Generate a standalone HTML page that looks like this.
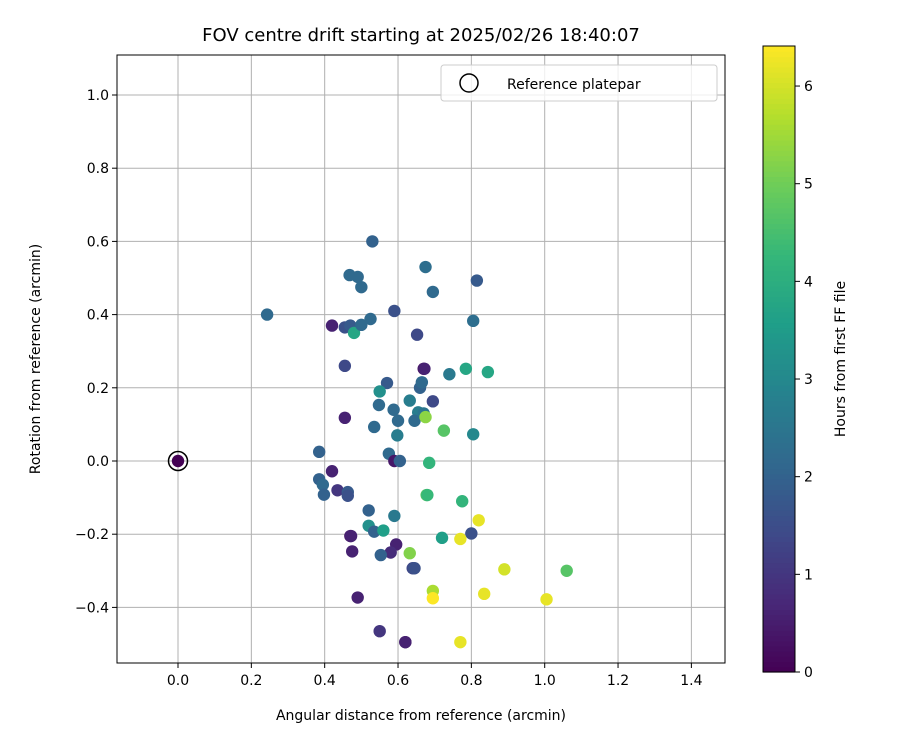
<!DOCTYPE html>
<html><head><meta charset="utf-8"><style>
body{margin:0;background:#fff;font-family:"Liberation Sans","DejaVu Sans",sans-serif}
svg text{font-family:"DejaVu Sans","Liberation Sans",sans-serif}
</style></head><body>
<svg id="c" width="900" height="750" viewBox="0 0 900 750"></svg>
<script>
const xs=[0.243,0.53,0.468,0.49,0.50,0.675,0.695,0.815,0.805,0.42,0.455,0.47,0.48,0.50,0.525,0.59,0.652,0.455,0.67,0.672,0.74,0.785,0.845,0.57,0.55,0.66,0.665,0.632,0.695,0.548,0.588,0.655,0.645,0.67,0.60,0.675,0.455,0.535,0.725,0.805,0.598,0.385,0.575,0.59,0.605,0.685,0.42,0.385,0.395,0.398,0.435,0.463,0.463,0.678,0.68,0.775,0.52,0.59,0.82,0.52,0.535,0.56,0.80,0.47,0.472,0.72,0.77,0.595,0.475,0.58,0.553,0.632,0.64,0.645,0.89,1.06,0.695,0.835,0.695,0.49,1.005,0.55,0.62,0.62,0.77];
const ys=[0.40,0.60,0.508,0.503,0.475,0.53,0.462,0.493,0.383,0.37,0.365,0.37,0.35,0.372,0.388,0.41,0.345,0.26,0.252,0.252,0.237,0.252,0.243,0.213,0.19,0.20,0.215,0.165,0.163,0.153,0.14,0.133,0.11,0.13,0.11,0.12,0.118,0.093,0.083,0.073,0.07,0.025,0.02,0.0,0.0,-0.005,-0.028,-0.05,-0.065,-0.092,-0.08,-0.085,-0.095,-0.093,-0.093,-0.11,-0.135,-0.15,-0.162,-0.177,-0.193,-0.19,-0.198,-0.205,-0.205,-0.21,-0.213,-0.228,-0.247,-0.25,-0.257,-0.252,-0.293,-0.293,-0.296,-0.30,-0.355,-0.363,-0.375,-0.373,-0.378,-0.465,-0.495,-0.495,-0.495];
const hours=[2.2,2.0,2.2,2.2,2.2,2.3,2.2,1.8,2.3,0.6,1.6,1.8,3.8,2.2,2.2,1.6,1.4,1.4,0.3,0.6,2.6,3.8,3.8,1.8,3.2,2.0,2.2,2.7,1.4,2.2,2.2,2.7,2.2,2.5,2.2,5.3,0.6,2.2,4.7,3.0,2.7,2.0,2.2,0.4,2.0,4.2,0.6,2.0,2.2,2.0,1.0,1.8,1.6,4.8,4.3,4.2,2.0,2.6,6.2,3.2,2.0,3.6,1.6,0.4,0.6,3.6,6.2,0.6,0.6,0.8,2.0,5.2,1.4,1.6,6.0,4.7,5.6,6.2,6.4,0.6,6.2,1.0,0.4,0.6,6.2];
const xTicks=[0.0,0.2,0.4,0.6,0.8,1.0,1.2,1.4];
const yTicks=[-0.4,-0.2,0.0,0.2,0.4,0.6,0.8,1.0];
const cTicks=[0,1,2,3,4,5,6];
const L=117,R=725,T=55,B=663;
const X=v=>178+v*366.7, Y=v=>461-v*366;
const CT=46,CB=672,HMAX=6.41, CY=h=>CB-h/HMAX*(CB-CT);
const vir=[[68,1,84],[72,40,120],[62,74,137],[49,104,142],[38,130,142],[31,158,137],[53,183,121],[109,205,89],[180,222,44],[253,231,37]];
function col(h){let t=Math.max(0,Math.min(1,h/HMAX))*9,i=Math.min(8,Math.floor(t)),f=t-i;
const a=vir[i],b=vir[i+1];return `rgb(${a.map((v,k)=>Math.round(v+(b[k]-v)*f)).join(',')})`;}
const s=document.getElementById('c'),NS='http://www.w3.org/2000/svg';
function el(tag,at,txt){const e=document.createElementNS(NS,tag);for(const k in at)e.setAttribute(k,at[k]);if(txt!==undefined)e.textContent=txt;s.appendChild(e);return e;}
let e;
xTicks.forEach(v=>{e=el('line',{x1:X(v),x2:X(v),y1:T,y2:B,stroke:'#b0b0b0','stroke-width':1});

e=el('line',{x1:X(v),x2:X(v),y1:B,y2:B+5,stroke:'#000'});

e=el('text',{x:X(v),y:B+22,'text-anchor':'middle','font-size':14},v.toFixed(1));
});
yTicks.forEach(v=>{e=el('line',{x1:L,x2:R,y1:Y(v),y2:Y(v),stroke:'#b0b0b0','stroke-width':1});

e=el('line',{x1:L-5,x2:L,y1:Y(v),y2:Y(v),stroke:'#000'});

e=el('text',{x:L-8,y:Y(v)+5,'text-anchor':'end','font-size':14},(v<0?'\u2212':'')+Math.abs(v).toFixed(1));
});
xs.forEach((v,i)=>{e=el('circle',{cx:X(v),cy:Y(ys[i]),r:6.2,fill:col(hours[i])});
});
e=el('circle',{cx:X(0),cy:Y(0),r:6.2,fill:col(0)});

e=el('circle',{cx:X(0),cy:Y(0),r:9.5,fill:'none',stroke:'#000','stroke-width':1.5});

e=el('rect',{x:L,y:T,width:R-L,height:B-T,fill:'none',stroke:'#000','stroke-width':1});

e=el('rect',{x:441,y:65,width:276,height:36,rx:3,fill:'#fff','fill-opacity':0.8,stroke:'#ccc'});

e=el('circle',{cx:469,cy:83,r:9,fill:'none',stroke:'#000','stroke-width':1.5});

e=el('text',{x:507,y:89,'font-size':14},'Reference platepar');

e=el('text',{x:421,y:41,'text-anchor':'middle','font-size':18},'FOV centre drift starting at 2025/02/26 18:40:07');

e=el('text',{x:421,y:720,'text-anchor':'middle','font-size':14},'Angular distance from reference (arcmin)');

e=el('text',{x:0,y:0,'text-anchor':'middle','font-size':14,transform:'translate(40,359) rotate(-90)'},'Rotation from reference (arcmin)');

for(let i=0;i<120;i++){const h0=i/120*HMAX,h1=(i+1)/120*HMAX;
e=el('rect',{x:763,y:CY(h1),width:32,height:CY(h0)-CY(h1)+0.6,fill:col((h0+h1)/2)});
}
e=el('rect',{x:763,y:CT,width:32,height:CB-CT,fill:'none',stroke:'#000'});

cTicks.forEach(v=>{e=el('line',{x1:795,x2:800,y1:CY(v),y2:CY(v),stroke:'#000'});

e=el('text',{x:804,y:CY(v)+5,'font-size':14},String(v));
});
e=el('text',{x:0,y:0,'text-anchor':'middle','font-size':14,transform:'translate(845,359) rotate(-90)'},'Hours from first FF file');

</script>
</body></html>
